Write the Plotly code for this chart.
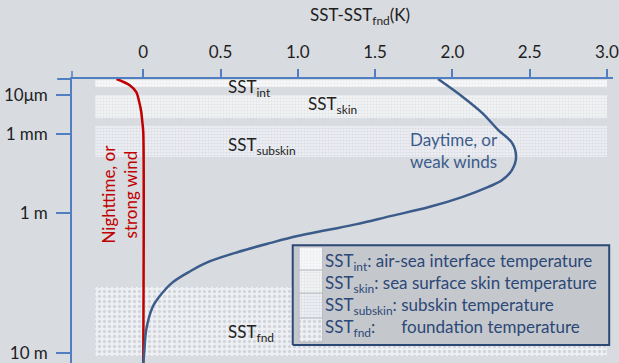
import plotly.graph_objects as go

# ---- axes -------------------------------------------------------------
# x: temperature difference SST - SST_fnd (K)
x_ticks = [0, 0.5, 1.0, 1.5, 2.0, 2.5, 3.0]
x_tick_text = ["0", "0.5", "1.0", "1.5", "2.0", "2.5", "3.0"]

# y: schematic (non-linear) depth coordinate, 0 = sea surface, 100 = panel bottom
depth_ticks = [5.6, 19.4, 47.2, 96.5]
depth_tick_text = ["10μm", "1 mm", "1 m", "10 m"]

# ---- temperature profiles --------------------------------------------
# Night-time or strong wind: cool skin only
night_depth = [0, 2.1, 4.6, 8.1, 11.6, 15.1, 18.7, 100]
night_dT = [-0.173, -0.090, -0.045, -0.026, -0.013, -0.006, 0.0, 0.0]

# Day-time or weak winds: diurnal warm layer with a cool skin on top
day_depth = [0, 6.3, 12.0, 18.0, 22.5, 27.5, 32.0, 35.6, 38.0, 41.5, 45.1,
             48.2, 51.1, 53.2, 55.3, 57.7, 60.9, 64.8, 68.0, 71.8, 76.8,
             80.6, 88.4, 96.5, 100]
day_dT = [1.907, 2.067, 2.194, 2.297, 2.386, 2.412, 2.386, 2.322, 2.233, 2.067, 1.849,
          1.606, 1.382, 1.190, 0.998, 0.825, 0.614, 0.403, 0.294, 0.186, 0.102,
          0.058, 0.019, 0.006, 0.0]

# ---- SST layers ---------------------------------------------------------
layer_names = ["SST<sub>int</sub>", "SST<sub>skin</sub>",
               "SST<sub>subskin</sub>", "SST<sub>fnd</sub>"]
layer_desc = ["air-sea interface temperature", "sea surface skin temperature",
              "subskin temperature", "\u00a0\u00a0\u00a0\u00a0\u00a0foundation temperature"]
layer_top = [0.35, 5.6, 16.5, 73.2]
layer_bottom = [2.8, 13.7, 27.5, 97.5]
layer_dT_span = [-0.31, 3.0]
layer_label_dT = [0.685, 1.222, 0.768, 0.70]
layer_label_depth = [3.2, 9.2, 23.6, 89.4]

# band fill styles (dotted texture)
band_bg = ["#f7f8f9", "#f1f2f4", "#eceef2", "#eef0f3"]
band_fg = ["#dfe2e6", "#cdd1d7", "#c3c8d1", "#b3bac6"]
band_dot = [3, 3, 3, 5]

FONT = "Lato"
FS = 17
BG = "#d8dbdf"
AXIS_BLUE = "#4f7fc0"
NIGHT_RED = "#c00000"
DAY_BLUE = "#3b5c8b"
KEY_BLUE = "#2c4877"

fig = go.Figure()

# depth bands
for top, bot, bg, fg, dot in zip(layer_top, layer_bottom, band_bg, band_fg, band_dot):
    x0, x1 = layer_dT_span
    fig.add_trace(go.Scatter(
        x=[x0, x1, x1, x0, x0], y=[top, top, bot, bot, top],
        mode="lines", fill="toself", line=dict(width=0),
        fillcolor=bg,
        fillpattern=dict(shape=".", bgcolor=bg, fgcolor=fg, size=dot, solidity=0.35),
        hoverinfo="skip", showlegend=False))

# profiles
fig.add_trace(go.Scatter(x=night_dT, y=night_depth, mode="lines",
                         line=dict(color=NIGHT_RED, width=2.5, shape="spline", smoothing=0.8),
                         hoverinfo="skip", showlegend=False))
fig.add_trace(go.Scatter(x=day_dT, y=day_depth, mode="lines",
                         line=dict(color=DAY_BLUE, width=2.5, shape="spline", smoothing=1.0),
                         hoverinfo="skip", showlegend=False))

# key box, drawn on an overlay with unit coordinates
key_x = [0.408, 0.993]
key_y = [0.063, 0.415]
fig.add_trace(go.Scatter(
    x=[key_x[0], key_x[1], key_x[1], key_x[0], key_x[0]],
    y=[key_y[0], key_y[0], key_y[1], key_y[1], key_y[0]],
    xaxis="x2", yaxis="y2", mode="lines", fill="toself",
    fillcolor="#c4c7cc", line=dict(color=KEY_BLUE, width=2),
    hoverinfo="skip", showlegend=False))

swatch_x = [0.420, 0.463]
swatch_edges = [0.408, 0.327, 0.246, 0.158, 0.074]
for i in range(4):
    top, bot = swatch_edges[i], swatch_edges[i + 1]
    fig.add_trace(go.Scatter(
        x=[swatch_x[0], swatch_x[1], swatch_x[1], swatch_x[0], swatch_x[0]],
        y=[bot, bot, top, top, bot],
        xaxis="x2", yaxis="y2", mode="lines", fill="toself",
        line=dict(color="#a9adb4", width=0.6), fillcolor=band_bg[i],
        fillpattern=dict(shape=".", bgcolor=band_bg[i], fgcolor=band_fg[i],
                         size=band_dot[i], solidity=0.35),
        hoverinfo="skip", showlegend=False))

annotations = []
# band labels
for name, lx, ly in zip(layer_names, layer_label_dT, layer_label_depth):
    annotations.append(dict(x=lx, y=ly, xref="x", yref="y", text=name, showarrow=False,
                            font=dict(family=FONT, size=FS, color="#222222")))

# key entries
key_rows = [0.356, 0.278, 0.201, 0.123]
for name, desc, ry in zip(layer_names, layer_desc, key_rows):
    annotations.append(dict(x=0.464, y=ry, xref="paper", yref="paper",
                            xanchor="left", yanchor="middle", showarrow=False,
                            text=f"{name}: {desc}",
                            font=dict(family=FONT, size=FS, color=KEY_BLUE)))

# profile captions
annotations.append(dict(x=2.009, y=25.0, xref="x", yref="y", showarrow=False,
                        text="Daytime, or<br>weak winds", align="center",
                        font=dict(family=FONT, size=FS, color=DAY_BLUE)))
annotations.append(dict(x=-0.160, y=40.5, xref="x", yref="y", showarrow=False,
                        text="Nighttime, or<br>strong wind", textangle=-90, align="center",
                        font=dict(family=FONT, size=FS, color=NIGHT_RED)))

# axis title
annotations.append(dict(x=0.532, y=1.222, xref="paper", yref="paper", showarrow=False,
                        text="SST-SST<sub>fnd</sub>(K)", yanchor="middle",
                        font=dict(family=FONT, size=FS, color="#1e1e1e")))

fig.update_layout(
    width=619, height=363,
    margin=dict(l=72, r=0, t=79, b=0),
    paper_bgcolor=BG, plot_bgcolor=BG,
    font=dict(family=FONT, size=FS, color="#1e1e1e"),
    showlegend=False,
    annotations=annotations,
    xaxis=dict(side="top", range=[-0.461, 3.039], tickvals=x_ticks, ticktext=x_tick_text,
               showgrid=False, zeroline=False, showline=True, linecolor=AXIS_BLUE,
               linewidth=2, ticks="outside", ticklen=8, tickwidth=2, tickcolor=AXIS_BLUE,
               ticklabelstandoff=4, ticklabeloverflow="allow",
               tickfont=dict(family=FONT, size=FS, color="#1e1e1e")),
    yaxis=dict(range=[100, 0], tickvals=depth_ticks, ticktext=depth_tick_text,
               showgrid=False, zeroline=False, showline=True, linecolor=AXIS_BLUE,
               linewidth=1.5, ticks="outside", ticklen=14, tickwidth=2, tickcolor=AXIS_BLUE,
               ticklabelstandoff=5, ticklabeloverflow="allow",
               tickfont=dict(family=FONT, size=FS, color="#1e1e1e")),
    xaxis2=dict(overlaying="x", range=[0, 1], visible=False),
    yaxis2=dict(overlaying="y", range=[0, 1], visible=False),
    shapes=[
        # axis lines continue a little past the crossing point
        dict(type="line", xref="paper", yref="paper", x0=-0.0274, x1=0, y0=1, y1=1,
             line=dict(color=AXIS_BLUE, width=2)),
        dict(type="line", xref="paper", yref="paper", x0=0, x1=0, y0=1, y1=1.028,
             line=dict(color=AXIS_BLUE, width=1.5)),
    ],
)

fig.write_html("out.html")
